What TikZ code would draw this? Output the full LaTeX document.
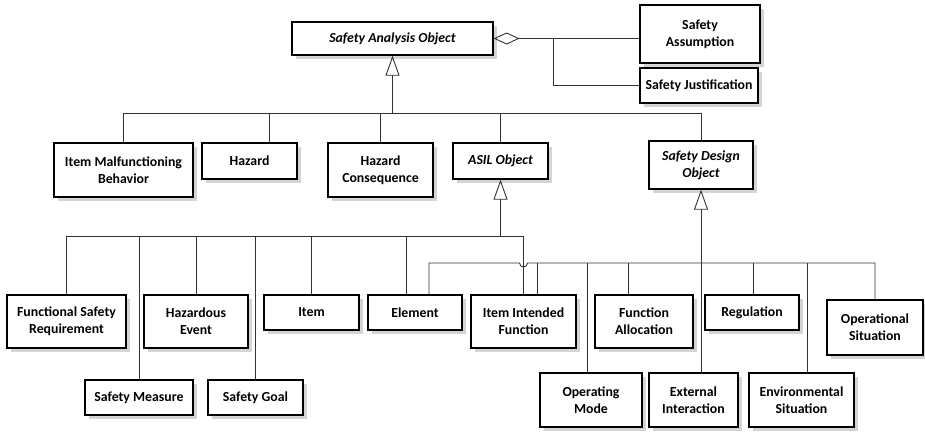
\documentclass[tikz,border=0pt]{standalone}
\usepackage{fontspec}
\setmainfont{Carlito}
\usetikzlibrary{arrows.meta,shadows,calc}
\begin{document}
\begin{tikzpicture}[x=1pt,y=-1pt,
  box/.style={draw=black, line width=1.3pt, fill=white, align=center,
    font=\bfseries\fontsize{13.8}{16.8}\selectfont, inner sep=0pt,
    drop shadow={shadow xshift=3.5pt, shadow yshift=-3.5pt, fill=black!17, opacity=1}},
  abox/.style={box, font=\bfseries\itshape\fontsize{13.8}{16.8}\selectfont},
  link/.style={draw=black!80, line width=0.9pt},
  gen/.style={link, {Triangle[open, width=14pt, length=20pt, line width=0.9pt]}-},
  agg/.style={link, {Diamond[open, width=12pt, length=26pt, line width=0.9pt]}-}
]
\useasboundingbox (0,0) rectangle (925,431);

% top level
\node[abox, minimum width=201pt, minimum height=33pt] (sao) at (392.5,38.5) {Safety Analysis Object};
\node[box, minimum width=120pt, minimum height=58pt] (sassump) at (700,34) {Safety\\Assumption};
\node[box, minimum width=118pt, minimum height=35pt] (sjust) at (699,85.5) {Safety Justification};

% second level
\node[box, minimum width=139pt, minimum height=54pt] (imb) at (123.5,170) {Item Malfunctioning\\Behavior};
\node[box, minimum width=95pt, minimum height=36pt] (hazard) at (249.5,161) {Hazard};
\node[box, minimum width=105pt, minimum height=54pt] (hcons) at (380.5,170) {Hazard\\Consequence};
\node[abox, minimum width=95pt, minimum height=36pt] (asil) at (500.5,161) {ASIL Object};
\node[abox, minimum width=104pt, minimum height=48pt] (sdo) at (701,165) {Safety Design\\Object};

% third level, upper row
\node[box, minimum width=119pt, minimum height=53pt] (fsr) at (66.5,321.5) {Functional Safety\\Requirement};
\node[box, minimum width=104pt, minimum height=53pt] (hevent) at (196,321.5) {Hazardous\\Event};
\node[box, minimum width=95pt, minimum height=35pt] (item) at (311.5,312.5) {Item};
\node[box, minimum width=94pt, minimum height=35pt] (element) at (415,312.5) {Element};
\node[box, minimum width=105pt, minimum height=53pt] (iif) at (523.5,321.5) {Item Intended\\Function};
\node[box, minimum width=98pt, minimum height=53pt] (falloc) at (644,321.5) {Function\\Allocation};
\node[box, minimum width=94pt, minimum height=35pt] (reg) at (752,312.5) {Regulation};
\node[box, minimum width=96pt, minimum height=55pt] (opsit) at (875,327.5) {Operational\\Situation};

% third level, lower row
\node[box, minimum width=108pt, minimum height=35pt] (smeasure) at (139,397.5) {Safety Measure};
\node[box, minimum width=95pt, minimum height=35pt] (sgoal) at (255.5,397.5) {Safety Goal};
\node[box, minimum width=102pt, minimum height=54pt] (opmode) at (591,400) {Operating\\Mode};
\node[box, minimum width=89pt, minimum height=54pt] (extint) at (693.5,400) {External\\Interaction};
\node[box, minimum width=105pt, minimum height=54pt] (envsit) at (801.5,400) {Environmental\\Situation};

% bus levels
\coordinate (bus1) at (0,113);
\coordinate (bus2) at (0,236);
\coordinate (bus3) at (0,263);

% aggregation of assumptions and justifications
\draw[agg] (sao.east) -- (sao.east -| sassump.west);
\coordinate (aj) at (553,38.5);
\draw[link] (aj) |- (sjust.west);

% specialisations of Safety Analysis Object
\draw[gen] (sao.south) -- (sao.south |- bus1);
\draw[link] (imb.north) -- (imb.north |- bus1) -- (sdo.north |- bus1) -- (sdo.north);
\coordinate (hzd) at (269,113);
\draw[link] (hzd) -- (hzd |- hazard.north);
\draw[link] (hcons.north |- bus1) -- (hcons.north);
\draw[link] (asil.north |- bus1) -- (asil.north);

% specialisations of ASIL Object
\draw[gen] (asil.south) -- (asil.south |- bus2);
\draw[link] (fsr.north) -- (fsr.north |- bus2) -- (iif.north |- bus2) -- (iif.north);
\draw[link] (smeasure.north |- bus2) -- (smeasure.north);
\draw[link] (hevent.north |- bus2) -- (hevent.north);
\draw[link] (sgoal.north |- bus2) -- (sgoal.north);
\draw[link] (item.north |- bus2) -- (item.north);
\coordinate (el1) at (406,236);
\draw[link] (el1) -- (el1 |- element.north);

% specialisations of Safety Design Object
\draw[gen] (sdo.south) -- (sdo.south |- extint.north);
\coordinate (el2) at (429,263);
\coordinate (hop) at (iif.north |- bus3);
\draw[link] (el2 |- element.north) -- (el2) -- ($(hop)+(-4,0)$)
  .. controls +(0,5.3) and +(0,5.3) .. ($(hop)+(4,0)$) -- (opsit.north |- bus3) -- (opsit.north);
\coordinate (if2) at (537,263);
\draw[link] (if2) -- (if2 |- iif.north);
\coordinate (om) at (587,263);
\draw[link] (om) -- (om |- opmode.north);
\coordinate (fa) at (628,263);
\draw[link] (fa) -- (fa |- falloc.north);
\coordinate (rg) at (753,263);
\draw[link] (rg) -- (rg |- reg.north);
\coordinate (es) at (807,263);
\draw[link] (es) -- (es |- envsit.north);
\end{tikzpicture}
\end{document}
